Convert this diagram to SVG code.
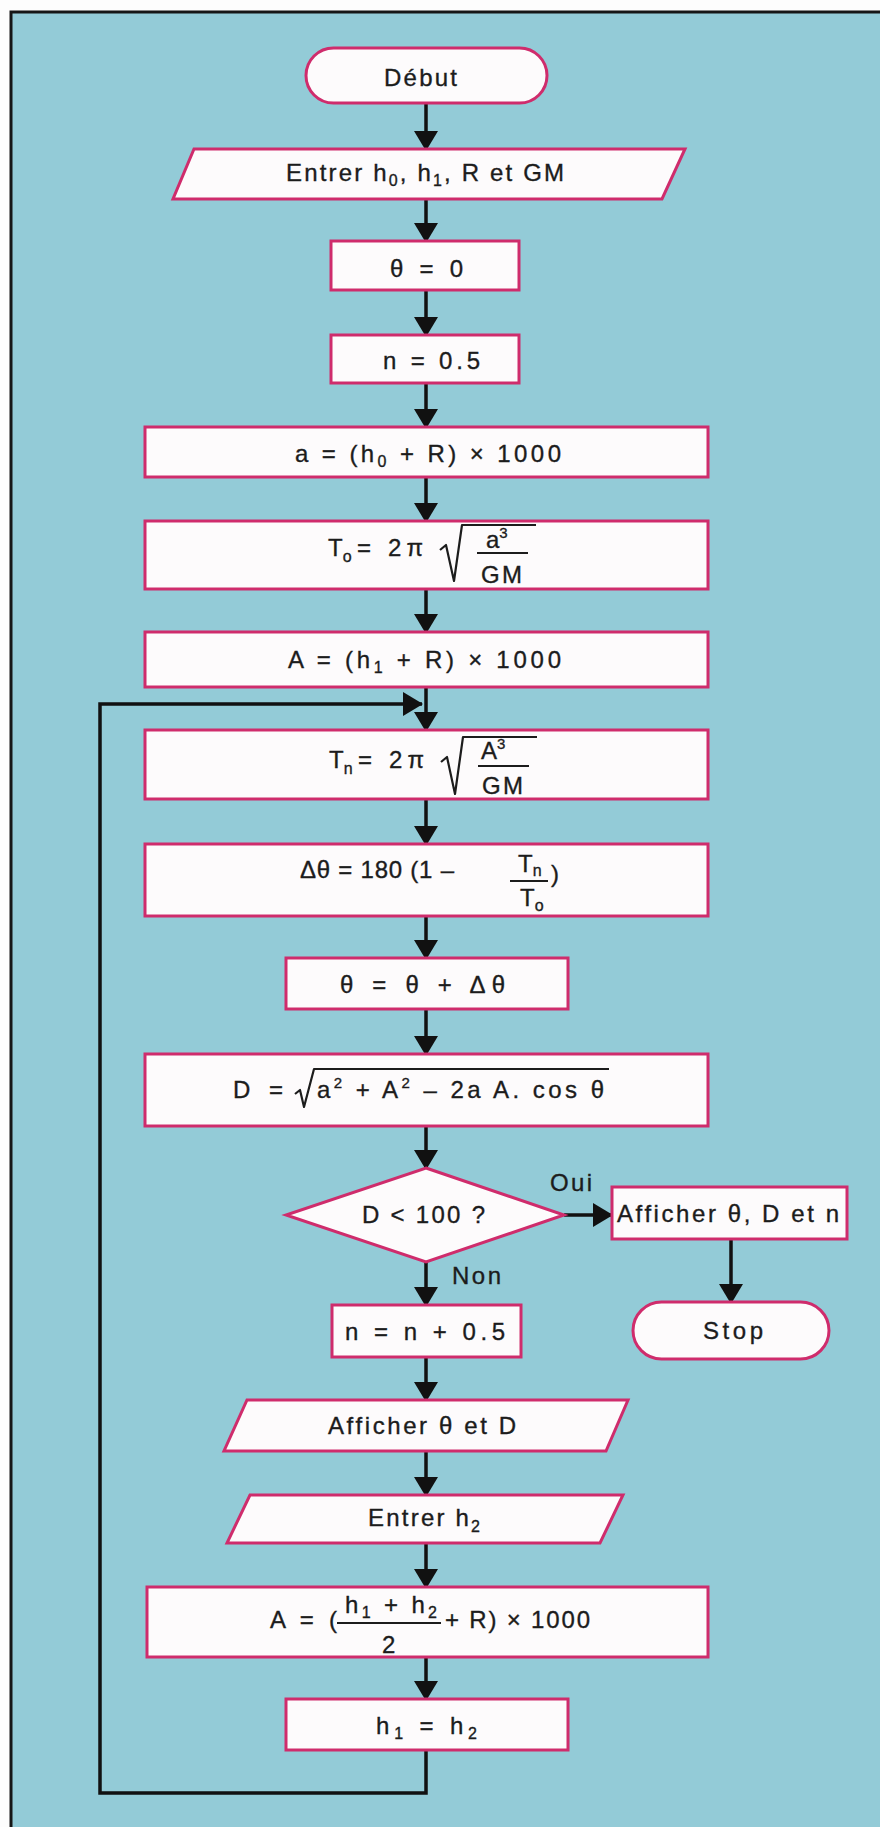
<svg xmlns="http://www.w3.org/2000/svg" width="880" height="1827" viewBox="0 0 880 1827">
  <style>
    .node { fill: #fdfbfc; stroke: #cf2c6c; stroke-width: 3; }
    .t { font-family: "Liberation Sans", Arial, Helvetica, sans-serif; font-size: 24px; fill: #1c1c1c; stroke: #1c1c1c; stroke-width: 0.35; }
    .s { font-size: 16px; }
    .sup { font-size: 15px; }
    .lbl { font-family: "Liberation Sans", Arial, Helvetica, sans-serif; font-size: 24px; fill: #1c1c1c; stroke: #1c1c1c; stroke-width: 0.35; }
    .math { fill: none; stroke: #1c1c1c; stroke-width: 2.2; stroke-linejoin: round; }
    .wire { fill: none; stroke: #111; stroke-width: 3.5; }
    .arrow { marker-end: url(#ah); }
  </style>
  <defs>
    <marker id="ah" viewBox="0 0 20 24" markerWidth="20" markerHeight="24" refX="19" refY="12" orient="auto" markerUnits="userSpaceOnUse">
      <path d="M0,0 L20,12 L0,24 Z" fill="#111"/>
    </marker>
  </defs>

  <!-- page and frame -->
  <rect x="0" y="0" width="880" height="1827" fill="#fdfdfd"/>
  <rect x="11" y="12" width="869" height="1815" fill="#93cbd7"/>
  <path d="M11,1827 V12 H880" fill="none" stroke="#161616" stroke-width="3"/>

  <!-- connectors -->
  <g id="connectors">
    <path class="wire arrow" d="M426,103 V150"/>
    <path class="wire arrow" d="M426,199 V242"/>
    <path class="wire arrow" d="M426,290 V336"/>
    <path class="wire arrow" d="M426,383 V428"/>
    <path class="wire arrow" d="M426,477 V522"/>
    <path class="wire arrow" d="M426,589 V633"/>
    <path class="wire arrow" d="M426,687 V731"/>
    <path class="wire arrow" d="M426,799 V845"/>
    <path class="wire arrow" d="M426,916 V959"/>
    <path class="wire arrow" d="M426,1009 V1055"/>
    <path class="wire arrow" d="M426,1126 V1169"/>
    <path class="wire arrow" d="M426,1262 V1306"/>
    <path class="wire arrow" d="M426,1357 V1401"/>
    <path class="wire arrow" d="M426,1451 V1496"/>
    <path class="wire arrow" d="M426,1543 V1588"/>
    <path class="wire arrow" d="M426,1657 V1700"/>
    <path class="wire arrow" d="M426,1750 V1793 H100 V704 H422"/>
    <path class="wire arrow" d="M564,1215 H612"/>
    <path class="wire arrow" d="M731,1239 V1303"/>
    <text class="lbl" x="550" y="1191" textLength="42">Oui</text>
    <text class="lbl" x="452" y="1284" textLength="49">Non</text>
  </g>

  <g id="debut">
    <rect class="node" x="306" y="48" width="241" height="55" rx="27.5"/>
    <text class="t" x="384" y="86" textLength="73">Début</text>
  </g>

  <g id="entrer-h0-h1">
    <polygon class="node" points="194,149 685,149 662,199 173,199"/>
    <text class="t" x="286" y="181" textLength="278">Entrer h<tspan class="s" dy="5">0</tspan><tspan dy="-5">, h</tspan><tspan class="s" dy="5">1</tspan><tspan dy="-5">, R et GM</tspan></text>
  </g>

  <g id="theta-init">
    <rect class="node" x="331" y="241" width="188" height="49"/>
    <text class="t" x="390" y="277" textLength="73">θ = 0</text>
  </g>

  <g id="n-init">
    <rect class="node" x="331" y="335" width="188" height="48"/>
    <text class="t" x="383" y="369" textLength="97">n = 0.5</text>
  </g>

  <g id="a-calc">
    <rect class="node" x="145" y="427" width="563" height="50"/>
    <text class="t" x="295" y="462" textLength="266">a = (h<tspan class="s" dy="5">0</tspan><tspan dy="-5"> + R) × 1000</tspan></text>
  </g>

  <g id="t0-calc">
    <rect class="node" x="145" y="521" width="563" height="68"/>
    <text class="t" x="328" y="556">T<tspan class="s" dy="6">o</tspan></text>
    <text class="t" x="357" y="556" textLength="66">= 2π</text>
    <path class="math" d="M440,550 L446,545 L454,581 L462,525 H536"/>
    <text class="t" x="486" y="548" font-size="22">a<tspan class="sup" dy="-10">3</tspan></text>
    <path class="math" d="M477,553 H528"/>
    <text class="t" x="481" y="583" textLength="41">GM</text>
  </g>

  <g id="A-calc">
    <rect class="node" x="145" y="632" width="563" height="55"/>
    <text class="t" x="288" y="668" textLength="273">A = (h<tspan class="s" dy="5">1</tspan><tspan dy="-5"> + R) × 1000</tspan></text>
  </g>

  <g id="tn-calc">
    <rect class="node" x="145" y="730" width="563" height="69"/>
    <text class="t" x="329" y="768">T<tspan class="s" dy="6">n</tspan></text>
    <text class="t" x="358" y="768" textLength="66">= 2π</text>
    <path class="math" d="M441,762 L447,757 L455,794 L463,737 H537"/>
    <text class="t" x="481" y="759" font-size="22">A<tspan class="sup" dy="-10">3</tspan></text>
    <path class="math" d="M478,766 H529"/>
    <text class="t" x="482" y="794" textLength="41">GM</text>
  </g>

  <g id="dtheta-calc">
    <rect class="node" x="145" y="844" width="563" height="72"/>
    <text class="t" x="300" y="878" textLength="154">Δθ = 180 (1 –</text>
    <text class="t" x="518" y="872" font-size="22">T<tspan class="s" dy="4">n</tspan></text>
    <path class="math" d="M510,881 H548"/>
    <text class="t" x="520" y="906" font-size="22">T<tspan class="s" dy="5">o</tspan></text>
    <text class="t" x="551" y="882">)</text>
  </g>

  <g id="theta-update">
    <rect class="node" x="286" y="958" width="282" height="51"/>
    <text class="t" x="340" y="993" textLength="165">θ = θ + Δθ</text>
  </g>

  <g id="d-calc">
    <rect class="node" x="145" y="1054" width="563" height="72"/>
    <text class="t" x="233" y="1098" textLength="50">D =</text>
    <path class="math" d="M295,1094 L300,1090 L304,1107 L314,1069 H609"/>
    <text class="t" x="317" y="1098" textLength="287">a<tspan class="sup" dy="-10">2</tspan><tspan dy="10"> + A</tspan><tspan class="sup" dy="-10">2</tspan><tspan dy="10"> – 2a A. cos θ</tspan></text>
  </g>

  <g id="test-d">
    <polygon class="node" points="426,1168 564,1215 426,1262 286,1215"/>
    <text class="t" x="362" y="1223" textLength="123">D &lt; 100 ?</text>
  </g>

  <g id="show-result">
    <rect class="node" x="612" y="1187" width="235" height="52"/>
    <text class="t" x="617" y="1222" textLength="222">Afficher θ, D et n</text>
  </g>

  <g id="stop">
    <rect class="node" x="633" y="1302" width="196" height="57" rx="28.5"/>
    <text class="t" x="703" y="1339" textLength="60">Stop</text>
  </g>

  <g id="n-step">
    <rect class="node" x="332" y="1305" width="189" height="52"/>
    <text class="t" x="345" y="1340" textLength="160">n = n + 0.5</text>
  </g>

  <g id="show-theta-d">
    <polygon class="node" points="247,1400 628,1400 606,1451 224,1451"/>
    <text class="t" x="328" y="1434" textLength="188">Afficher θ et D</text>
  </g>

  <g id="entrer-h2">
    <polygon class="node" points="250,1495 623,1495 600,1543 227,1543"/>
    <text class="t" x="368" y="1526" textLength="112">Entrer h<tspan class="s" dy="6">2</tspan></text>
  </g>

  <g id="A-mean">
    <rect class="node" x="147" y="1587" width="561" height="70"/>
    <text class="t" x="270" y="1628" textLength="67">A = (</text>
    <text class="t" x="345" y="1613" textLength="92" font-size="23">h<tspan class="s" dy="5">1</tspan><tspan dy="-5"> + h</tspan><tspan class="s" dy="5">2</tspan></text>
    <path class="math" d="M337,1623 H441"/>
    <text class="t" x="382" y="1653">2</text>
    <text class="t" x="445" y="1628" textLength="145">+ R) × 1000</text>
  </g>

  <g id="h1-update">
    <rect class="node" x="286" y="1699" width="282" height="51"/>
    <text class="t" x="376" y="1734" textLength="101">h<tspan class="s" dy="5">1</tspan><tspan dy="-5"> = h</tspan><tspan class="s" dy="5">2</tspan></text>
  </g>
</svg>
